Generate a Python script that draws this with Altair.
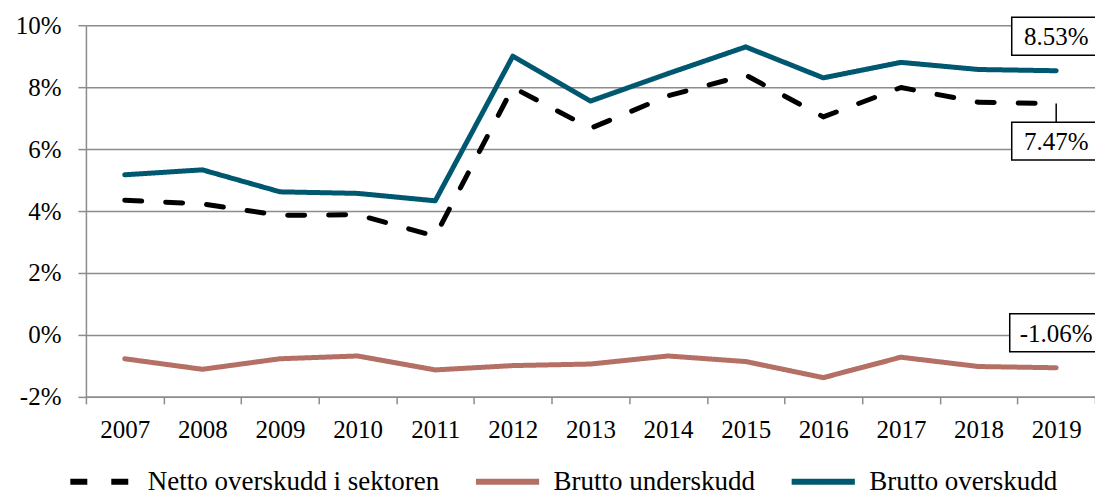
import altair as alt
import pandas as pd

years = [str(y) for y in range(2007, 2020)]
netto = [4.35, 4.23, 3.86, 3.88, 3.19, 7.99, 6.67, 7.72, 8.39, 7.04, 7.99, 7.51, 7.47]
brutto_under = [-0.77, -1.11, -0.77, -0.68, -1.13, -0.99, -0.94, -0.68, -0.86, -1.38, -0.72, -1.02, -1.06]
brutto_over = [5.17, 5.33, 4.62, 4.57, 4.33, 9.00, 7.55, 8.44, 9.30, 8.30, 8.80, 8.57, 8.53]
series_names = ["Netto overskudd i sektoren", "Brutto underskudd", "Brutto overskudd"]
colors = ["#000000", "#B57066", "#005870"]
dashes = [[17, 24], [1, 0], [1, 0]]
y_ticks = [-2, 0, 2, 4, 6, 8, 10]

FONT = "Liberation Serif"
GRID = "#8c8c8c"

rows = []
for name, vals in zip(series_names, [netto, brutto_under, brutto_over]):
    for yr, v in zip(years, vals):
        rows.append({"year": yr, "value": v, "series": name})
df = pd.DataFrame(rows)

x_enc = alt.X("year:N", sort=years, scale=alt.Scale(paddingInner=0, paddingOuter=0),
              axis=alt.Axis(title=None, labelAngle=0, tickBand="extent", tickSize=7,
                            tickColor=GRID, tickWidth=1.5, domainColor=GRID, domainWidth=1.5,
                            labelFont=FONT, labelFontSize=25, labelColor="#000",
                            labelPadding=14, grid=False))
y_scale = alt.Scale(domain=[-2, 10], nice=False)

lines = alt.Chart(df).mark_line(strokeWidth=5, strokeCap="round", strokeJoin="round").encode(
    x=x_enc,
    y=alt.Y("value:Q", scale=y_scale,
            axis=alt.Axis(title=None, values=y_ticks, labelExpr="datum.value + '%'",
                          grid=True, gridColor=GRID, gridWidth=1.5, tickSize=8,
                          tickColor=GRID, tickWidth=1.5, domainColor=GRID, domainWidth=1.5,
                          labelFont=FONT, labelFontSize=25, labelColor="#000",
                          labelPadding=17)),
    color=alt.Color("series:N", scale=alt.Scale(domain=series_names, range=colors),
                    legend=alt.Legend(title=None)),
    strokeDash=alt.StrokeDash("series:N", scale=alt.Scale(domain=series_names, range=dashes),
                              legend=alt.Legend(title=None)),
    order=alt.Order("year:N"),
)

# end-of-line labels
last = [(series_names[i], [netto, brutto_under, brutto_over][i][-1]) for i in range(3)]
label_style = {
    "Brutto overskudd": dict(dy=-34.6, w=89),
    "Netto overskudd i sektoren": dict(dy=37.6, w=89),
    "Brutto underskudd": dict(dy=-35, w=93),
}
layers = [lines]
for name, v in last:
    st = label_style[name]
    ldf = pd.DataFrame({"year": [years[-1]], "value": [v], "label": [f"{v:.2f}%"]})
    base = alt.Chart(ldf).encode(x=alt.X("year:N", sort=years), y=alt.Y("value:Q", scale=y_scale))
    half = st["w"] / 2
    h = 19 / half
    path = f"M-1,-{h:.4f}L1,-{h:.4f}L1,{h:.4f}L-1,{h:.4f}Z"
    if name == "Netto overskudd i sektoren":
        layers.append(base.mark_rule(color="#000", strokeWidth=1.5, y2Offset=st["dy"] - 19).encode(
            y2=alt.Y2("value:Q")))
    layers.append(base.mark_point(shape=path, size=st["w"] ** 2, filled=True, fill="white",
                                  stroke="black", strokeWidth=1.5, opacity=1,
                                  yOffset=st["dy"]))
    layers.append(base.mark_text(font=FONT, fontSize=25, color="#000", baseline="middle",
                                 align="center", yOffset=st["dy"] + 1).encode(text="label:N"))

chart = alt.layer(*layers).properties(
    width=1010, height=372,
    padding={"left": 78, "top": 17, "right": 0, "bottom": 100},
    autosize=alt.AutoSizeParams(type="none"),
).configure_view(stroke=None).configure_legend(
    orient="none", legendX=-19, legendY=422, direction="horizontal", columns=3,
    symbolType="stroke", symbolSize=4000, symbolStrokeWidth=6,
    labelFont=FONT, labelFontSize=27, labelColor="#000", labelOffset=11,
    columnPadding=24, labelLimit=400, padding=0,
)

chart.save("out.html", embed_options={"renderer": "svg", "actions": False})
